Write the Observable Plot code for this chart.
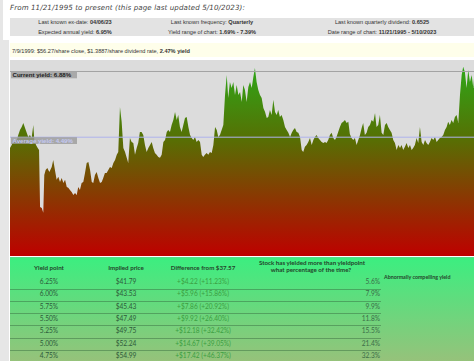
<!DOCTYPE html>
<html><head><meta charset="utf-8">
<script src="https://cdn.jsdelivr.net/npm/d3@7"></script>
<script src="https://cdn.jsdelivr.net/npm/@observablehq/plot@0.6"></script>
<style>
html,body{margin:0;padding:0;background:#fff;width:474px;height:361px;overflow:hidden;position:relative;font-family:"Liberation Sans",Arial,sans-serif;}
#strip{position:absolute;left:0;top:40px;width:9px;height:321px;background:#e6e6e6;}
#strip2{position:absolute;left:0;top:0;width:3px;height:40px;background:#e6e6e6;}
#title{position:absolute;left:10px;top:2.5px;font-style:italic;font-size:7.1px;font-family:"DejaVu Sans",sans-serif;color:#444;white-space:nowrap;letter-spacing:0.1px;}
.info{position:absolute;left:10px;width:470px;height:9px;background:#e3e3e3;font-size:5.6px;color:#333;}
.info span{position:absolute;top:1.8px;transform:translateX(-50%);white-space:nowrap;}
#note{position:absolute;left:10px;top:43px;width:470px;height:14px;background:#fefeea;font-size:5.6px;color:#333;}
#note span{position:absolute;left:2px;top:4.5px;white-space:nowrap;}
#chart{position:absolute;left:10px;top:60px;}
#tbl{position:absolute;left:10px;top:257px;width:470px;height:110px;background:linear-gradient(#3cee80,#9cbf7a);border-top:1px solid #5ad88c;font-family:Lato,"Open Sans",sans-serif;}
.cell{position:absolute;white-space:nowrap;font-size:6.6px;line-height:7px;}
.hdr{font-weight:bold;color:#23452b;font-size:6.2px;}
.sep{position:absolute;left:0;width:371px;height:1px;background:rgba(50,100,60,0.45);}
</style></head>
<body>
<div id="strip2"></div><div id="strip"></div>
<div id="title">From 11/21/1995 to present (this page last updated 5/10/2023):</div>
<div class="info" style="top:17.5px" id="info1"></div>
<div class="info" style="top:27px" id="info2"></div>
<div id="note"></div>
<div id="chart"></div>
<div id="tbl"></div>
<script>
// ---- data ----
const years = [1995.89,1995.99,1996.09,1996.29,1996.38,1996.48,1996.58,1996.68,1996.78,1996.88,1996.97,1997.07,1997.17,1997.27,1997.33,1997.43,1997.53,1997.61,1997.67,1997.77,1997.86,1997.92,1998.00,1998.10,1998.22,1998.36,1998.45,1998.55,1998.65,1998.75,1998.85,1998.95,1999.05,1999.15,1999.25,1999.34,1999.44,1999.54,1999.64,1999.74,1999.84,1999.93,2000.03,2000.13,2000.23,2000.33,2000.43,2000.53,2000.63,2000.73,2000.82,2000.92,2001.02,2001.12,2001.22,2001.32,2001.41,2001.51,2001.61,2001.71,2001.81,2001.91,2002.01,2002.11,2002.21,2002.30,2002.40,2002.50,2002.60,2002.70,2002.80,2002.89,2002.99,2003.09,2003.19,2003.29,2003.39,2003.48,2003.58,2003.68,2003.78,2003.88,2003.98,2004.08,2004.18,2004.28,2004.37,2004.47,2004.57,2004.67,2004.77,2004.87,2004.97,2005.07,2005.17,2005.26,2005.36,2005.46,2005.56,2005.66,2005.76,2005.85,2005.95,2006.05,2006.15,2006.25,2006.35,2006.45,2006.55,2006.65,2006.74,2006.84,2006.94,2007.04,2007.14,2007.24,2007.33,2007.43,2007.53,2007.63,2007.73,2007.83,2007.93,2008.03,2008.13,2008.22,2008.32,2008.42,2008.52,2008.62,2008.72,2008.81,2008.91,2009.01,2009.11,2009.21,2009.31,2009.41,2009.51,2009.61,2009.70,2009.80,2009.90,2010.00,2010.10,2010.20,2010.29,2010.39,2010.49,2010.59,2010.69,2010.79,2010.89,2010.99,2011.09,2011.18,2011.28,2011.38,2011.48,2011.58,2011.68,2011.77,2011.87,2011.97,2012.07,2012.17,2012.27,2012.37,2012.47,2012.57,2012.66,2012.76,2012.86,2012.96,2013.06,2013.16,2013.25,2013.35,2013.45,2013.55,2013.65,2013.75,2013.85,2013.94,2014.04,2014.14,2014.24,2014.34,2014.44,2014.54,2014.63,2014.73,2014.83,2014.93,2015.03,2015.13,2015.22,2015.32,2015.42,2015.52,2015.62,2015.72,2015.82,2015.92,2016.01,2016.11,2016.21,2016.31,2016.41,2016.51,2016.61,2016.71,2016.80,2016.90,2017.00,2017.10,2017.20,2017.30,2017.40,2017.50,2017.59,2017.69,2017.79,2017.89,2017.99,2018.09,2018.19,2018.28,2018.38,2018.48,2018.58,2018.68,2018.78,2018.88,2018.98,2019.07,2019.17,2019.27,2019.37,2019.47,2019.57,2019.67,2019.76,2019.86,2019.96,2020.06,2020.16,2020.26,2020.36,2020.46,2020.55,2020.65,2020.75,2020.85,2020.95,2021.05,2021.15,2021.24,2021.34,2021.44,2021.54,2021.64,2021.74,2021.83,2021.93,2022.03,2022.13,2022.23,2022.33,2022.43,2022.53,2022.63,2022.72,2022.82,2022.92,2023.02,2023.12,2023.22,2023.32,2023.36];
const yields = [4.08,4.19,4.33,4.37,4.55,4.73,4.84,4.99,4.81,4.63,4.48,4.55,4.44,4.92,4.37,4.19,4.08,4.01,1.93,1.90,1.72,3.10,3.28,3.35,3.21,3.39,3.64,3.28,2.92,3.03,2.84,2.99,2.81,2.92,2.66,2.63,2.55,2.48,2.37,2.44,2.37,2.66,2.55,2.81,2.84,3.17,3.53,3.57,3.28,2.84,2.81,3.10,3.21,2.99,2.81,2.84,2.99,3.17,3.17,3.28,3.39,3.35,3.53,3.64,3.83,3.93,5.57,5.03,4.08,3.93,3.72,3.53,4.44,4.30,4.26,3.83,4.08,4.26,4.66,4.66,4.55,4.19,3.93,4.08,4.19,4.30,4.08,3.90,3.83,3.75,3.72,3.83,4.30,4.37,4.66,4.73,4.66,4.92,5.10,5.39,5.10,5.28,4.84,4.66,4.92,5.17,5.21,4.84,4.55,4.44,4.37,4.48,4.30,4.37,4.30,3.83,3.75,3.83,3.90,3.83,3.93,3.90,4.19,4.84,4.73,4.48,4.55,4.73,4.92,6.01,6.73,5.90,6.48,6.26,6.48,6.01,6.37,6.01,6.12,5.75,6.37,6.19,5.75,6.30,6.48,6.26,6.63,6.99,6.48,6.19,6.01,5.90,5.53,5.39,5.17,5.21,5.46,5.28,5.83,5.39,5.28,5.46,5.21,5.28,5.10,4.84,4.73,4.63,4.48,4.63,4.73,4.81,4.66,4.63,4.48,4.01,3.93,4.12,4.19,4.30,4.44,4.19,4.37,4.48,4.55,4.44,4.37,4.30,4.26,4.30,4.26,4.37,4.55,4.63,4.44,4.37,4.48,4.66,4.84,4.99,5.03,5.10,4.99,5.03,4.59,4.44,4.37,4.44,4.19,4.37,4.55,4.81,4.99,4.55,4.63,4.84,4.92,5.10,5.03,5.35,4.84,4.92,5.28,4.63,4.55,4.92,4.99,4.84,4.73,4.63,4.37,4.26,4.01,4.19,4.08,4.19,4.01,4.12,4.26,4.08,4.19,4.01,4.08,4.19,4.44,4.26,4.84,4.30,4.19,4.37,4.26,4.19,4.30,4.44,4.37,4.48,4.30,4.37,4.44,4.48,4.55,4.73,4.84,5.03,4.92,5.10,4.99,5.21,5.28,4.99,6.01,6.73,7.03,6.84,6.26,6.92,6.48,6.73,6.26,6.60];
const currentYield = 6.88;
const averageYield = 4.49;
const yieldLabels = ["Current yield: 6.88%", "Average yield: 4.49%"];

const infoRow1 = [["Last known ex-date: ", "04/06/23"], ["Last known frequency: ", "Quarterly"], ["Last known quarterly dividend: ", "0.6525"]];
const infoRow2 = [["Expected annual yield: ", "6.95%"], ["Yield range of chart: ", "1.69% - 7.39%"], ["Date range of chart: ", "11/21/1995 - 5/10/2023"]];
const noteText = ["7/9/1999: $56.27/share close, $1.3887/share dividend rate, ", "2.47% yield"];

const tableHeaders = ["Yield point", "Implied price", "Difference from $37.57", "Stock has yielded more than yieldpoint|what percentage of the time?", "Abnormally compelling yield"];
const yieldPoints = ["6.25%", "6.00%", "5.75%", "5.50%", "5.25%", "5.00%", "4.75%"];
const impliedPrices = ["$41.79", "$43.53", "$45.43", "$47.49", "$49.75", "$52.24", "$54.99"];
const differences = ["+$4.22 (+11.23%)", "+$5.96 (+15.86%)", "+$7.86 (+20.92%)", "+$9.92 (+26.40%)", "+$12.18 (+32.42%)", "+$14.67 (+39.05%)", "+$17.42 (+46.37%)"];
const pctOfTime = ["5.6%", "7.9%", "9.9%", "11.8%", "15.5%", "21.4%", "32.3%"];

// ---- header info ----
const centers = [65, 202, 372];
function fillInfo(el, row) {
  row.forEach((p, i) => {
    const s = document.createElement("span");
    s.style.left = centers[i] + "px";
    s.innerHTML = p[0] + "<b>" + p[1] + "</b>";
    el.appendChild(s);
  });
}
fillInfo(document.getElementById("info1"), infoRow1);
fillInfo(document.getElementById("info2"), infoRow2);
document.getElementById("note").innerHTML = "<span>" + noteText[0] + "<b>" + noteText[1] + "</b></span>";

// ---- table ----
const tbl = document.getElementById("tbl");
const T0 = 257;
function cell(txt, x, y, cls, align, color) {
  const d = document.createElement("div");
  d.className = "cell " + (cls || "");
  d.textContent = txt;
  d.style.top = (y - T0 - 5) + "px";
  if (align === "right") { d.style.right = (470 - (x - 10)) + "px"; }
  else if (align === "left") { d.style.left = (x - 10) + "px"; }
  else { d.style.left = (x - 10) + "px"; d.style.transform = "translateX(-50%)"; }
  if (color) d.style.color = color;
  tbl.appendChild(d);
  return d;
}
const colX = [49, 126, 203];
cell(tableHeaders[0], colX[0], 268, "hdr");
cell(tableHeaders[1], colX[1], 268, "hdr");
cell(tableHeaders[2], colX[2], 268, "hdr");
const h4 = tableHeaders[3].split("|");
cell(h4[0], 312, 262.5, "hdr");
cell(h4[1], 311, 270, "hdr");
const h5 = cell(tableHeaders[4], 384, 278, "hdr", "left");
h5.style.fontSize = "5.3px";
const pitch = 12.3;
yieldPoints.forEach((yp, i) => {
  const yc = 282 + i * pitch;
  cell(yp, colX[0], yc, "", "center", "#2d5a3a");
  cell(impliedPrices[i], colX[1], yc, "", "center", "#2d5a3a");
  cell(differences[i], colX[2], yc, "", "center", "#3c9e42");
  cell(pctOfTime[i], 380, yc, "", "right", "#3a6c48");
  if (i < 6) {
    const s = document.createElement("div");
    s.className = "sep";
    s.style.top = (287.5 + i * pitch - T0) + "px";
    tbl.appendChild(s);
  }
});

// ---- chart ----
const series = years.map((y, i) => ({year: y, yield: yields[i]}));
const W = 464, H = 196;
const plot = Plot.plot({
  width: W, height: H, margin: 0,
  style: {background: "#dcdcdc", fontFamily: "Liberation Sans, Arial, sans-serif"},
  x: {domain: [years[0], years[years.length - 1]], axis: null},
  y: {domain: [0.15, 7.28], axis: null},
  marks: [
    Plot.areaY(series, {x: "year", y: "yield", fill: "url(#yieldGradient)", clip: true}),
    Plot.ruleY([currentYield], {stroke: "#a2a2a2", strokeWidth: 1}),
    Plot.ruleY([averageYield], {stroke: "#aeb2ec", strokeWidth: 1}),
    Plot.text([currentYield], {y: d => d, text: () => yieldLabels[0], frameAnchor: "left", textAnchor: "start", lineAnchor: "top", dx: 2, dy: 1.1, fontSize: 6.1, fontWeight: "bold", fill: "#222"}),
    Plot.text([averageYield], {y: d => d, text: () => yieldLabels[1], frameAnchor: "left", textAnchor: "start", lineAnchor: "top", dx: 2, dy: 1.1, fontSize: 6.1, fontWeight: "bold", fill: "#c4c8f4"})
  ]
});
const ns = "http://www.w3.org/2000/svg";
const defs = document.createElementNS(ns, "defs");
const lg = document.createElementNS(ns, "linearGradient");
lg.setAttribute("id", "yieldGradient");
lg.setAttribute("gradientUnits", "userSpaceOnUse");
lg.setAttribute("x1", 0); lg.setAttribute("y1", 0); lg.setAttribute("x2", 0); lg.setAttribute("y2", H);
[[0, "rgb(42,172,26)"], [0.4, "rgb(86,112,4)"], [1, "rgb(190,0,0)"]].forEach(([o, c]) => {
  const s = document.createElementNS(ns, "stop");
  s.setAttribute("offset", o); s.setAttribute("stop-color", c);
  lg.appendChild(s);
});
defs.appendChild(lg);
plot.insertBefore(defs, plot.firstChild);
document.getElementById("chart").appendChild(plot);
// label boxes behind the label texts
try {
  const ys = plot.scale("y");
  const texts = Array.from(plot.querySelectorAll("text")).filter(t => yieldLabels.includes(t.textContent));
  [currentYield, averageYield].forEach((v, i) => {
    const t = texts[i];
    if (!t) return;
    const g = t.parentNode;
    const r = document.createElementNS(ns, "rect");
    r.setAttribute("x", 1); r.setAttribute("width", 66);
    r.setAttribute("y", ys.apply(v) + 0.5); r.setAttribute("height", 6.8);
    r.setAttribute("fill", i === 0 ? "#a9a9a9" : "#9b9b9b");
    r.setAttribute("fill-opacity", i === 0 ? 1 : 0.8);
    g.parentNode.insertBefore(r, g);
  });
} catch (e) { console.log(e); }
</script>
</body></html>
